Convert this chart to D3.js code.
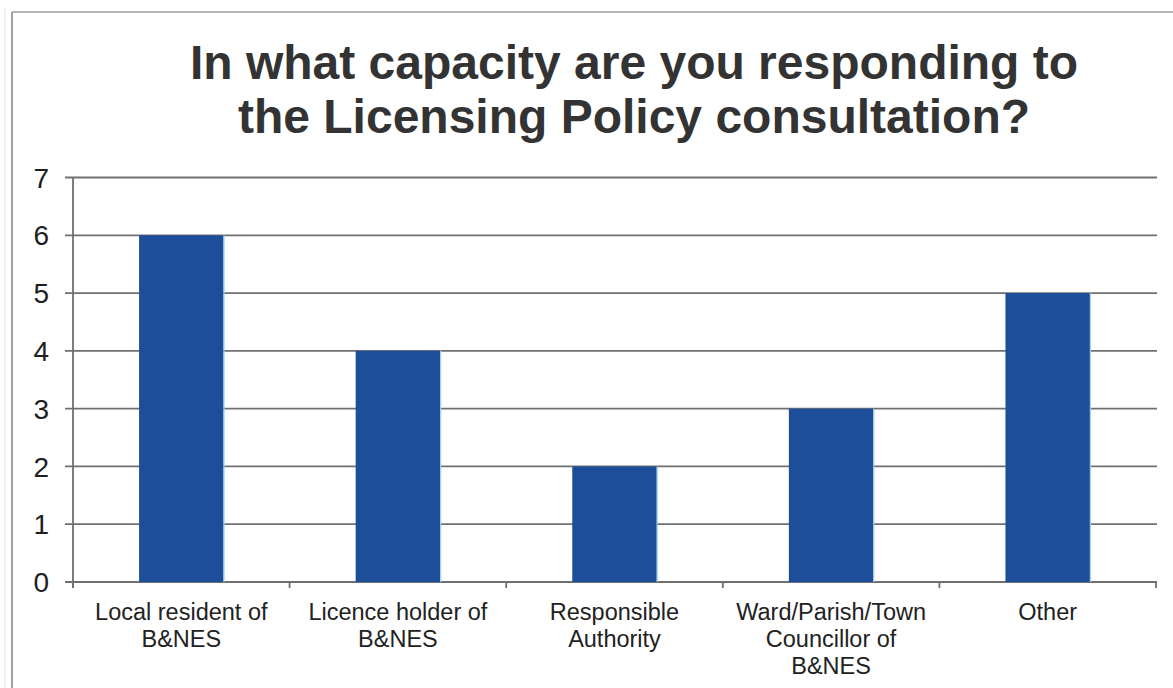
<!DOCTYPE html>
<html>
<head>
<meta charset="utf-8">
<script src="https://cdn.jsdelivr.net/npm/d3@7"></script>
<style>
  html, body { margin: 0; padding: 0; background: #fff; }
  svg { display: block; }
</style>
</head>
<body>
<script>
// Survey responses: "In what capacity are you responding to the Licensing Policy consultation?"
const categories = [
  "Local resident of B&NES",
  "Licence holder of B&NES",
  "Responsible Authority",
  "Ward/Parish/Town Councillor of B&NES",
  "Other"
];
const categoryLines = [
  ["Local resident of", "B&NES"],
  ["Licence holder of", "B&NES"],
  ["Responsible", "Authority"],
  ["Ward/Parish/Town", "Councillor of", "B&NES"],
  ["Other"]
];
const responses = [6, 4, 2, 3, 5];
const yTicks = [0, 1, 2, 3, 4, 5, 6, 7];
const titleLines = [
  "In what capacity are you responding to",
  "the Licensing Policy consultation?"
];

const W = 1173, H = 688;
const plot = { left: 73, right: 1156, top: 177.5, bottom: 582 };
const axisColor = "#707070";

const svg = d3.select("body").append("svg")
  .attr("width", W).attr("height", H)
  .style("font-family", "'Liberation Sans', Arial, sans-serif");

svg.append("rect").attr("width", W).attr("height", H).attr("fill", "#fff");

// Frame around the chart
svg.append("line").attr("x1", 5).attr("x2", 5).attr("y1", 8).attr("y2", H)
  .attr("stroke", "#e6e6e6").attr("stroke-width", 1);
svg.append("line").attr("x1", 12).attr("x2", W).attr("y1", 12).attr("y2", 12)
  .attr("stroke", "#9c9c9c").attr("stroke-width", 1.6);
svg.append("line").attr("x1", 12).attr("x2", 12).attr("y1", 12).attr("y2", H)
  .attr("stroke", "#8a8a8a").attr("stroke-width", 1.6);

// Title
svg.append("g").selectAll("text").data(titleLines).join("text")
  .attr("x", 634)
  .attr("y", (d, i) => 79 + i * 54)
  .attr("text-anchor", "middle")
  .attr("font-size", 48)
  .attr("font-weight", "bold")
  .attr("fill", "#333")
  .text(d => d);

// Scales
const x = d3.scaleBand().domain(categories).range([plot.left, plot.right]).padding(0);
const y = d3.scaleLinear().domain([0, 7]).range([plot.bottom, plot.top]);
const barW = x.bandwidth() * 0.39;

// Horizontal gridlines with short ticks to the left of the axis
svg.append("g").selectAll("line").data(yTicks).join("line")
  .attr("x1", plot.left - 8).attr("x2", plot.right + 1)
  .attr("y1", d => y(d)).attr("y2", d => y(d))
  .attr("stroke", axisColor).attr("stroke-width", 1.8);

// Y axis line
svg.append("line")
  .attr("x1", plot.left).attr("x2", plot.left)
  .attr("y1", y(7)).attr("y2", plot.bottom + 6)
  .attr("stroke", axisColor).attr("stroke-width", 1.8);

// Category boundary ticks on the x axis
const boundaries = categories.map(c => x(c)).concat([x(categories[categories.length - 1]) + x.bandwidth()]);
svg.append("g").selectAll("line").data(boundaries).join("line")
  .attr("x1", d => d).attr("x2", d => d)
  .attr("y1", plot.bottom).attr("y2", plot.bottom + 6)
  .attr("stroke", axisColor).attr("stroke-width", 1.8);

// Bars
const bars = svg.append("g");
bars.selectAll("rect").data(responses).join("rect")
  .attr("x", (d, i) => x(categories[i]) + (x.bandwidth() - barW) / 2)
  .attr("y", d => y(d))
  .attr("width", barW)
  .attr("height", d => y(0) - y(d))
  .attr("fill", "#1c4e9a");
// Light edge on the right side of each bar
bars.selectAll("line").data(responses).join("line")
  .attr("x1", (d, i) => x(categories[i]) + (x.bandwidth() + barW) / 2 + 0.5)
  .attr("x2", (d, i) => x(categories[i]) + (x.bandwidth() + barW) / 2 + 0.5)
  .attr("y1", d => y(d)).attr("y2", y(0))
  .attr("stroke", "#9fd2ee").attr("stroke-width", 1.2);

// Y tick labels
svg.append("g").selectAll("text").data(yTicks).join("text")
  .attr("x", 49)
  .attr("y", d => y(d))
  .attr("dy", "0.36em")
  .attr("text-anchor", "end")
  .attr("font-size", 28)
  .attr("fill", "#1e1e1e")
  .text(d => d);

// Category labels
const labels = svg.append("g").selectAll("text").data(categories).join("text")
  .attr("text-anchor", "middle")
  .attr("font-size", 23.5)
  .attr("fill", "#222");
labels.each(function (c, i) {
  d3.select(this).selectAll("tspan").data(categoryLines[i]).join("tspan")
    .attr("x", x(c) + x.bandwidth() / 2)
    .attr("y", (d, j) => plot.bottom + 38 + j * 27)
    .text(d => d);
});
</script>
</body>
</html>
